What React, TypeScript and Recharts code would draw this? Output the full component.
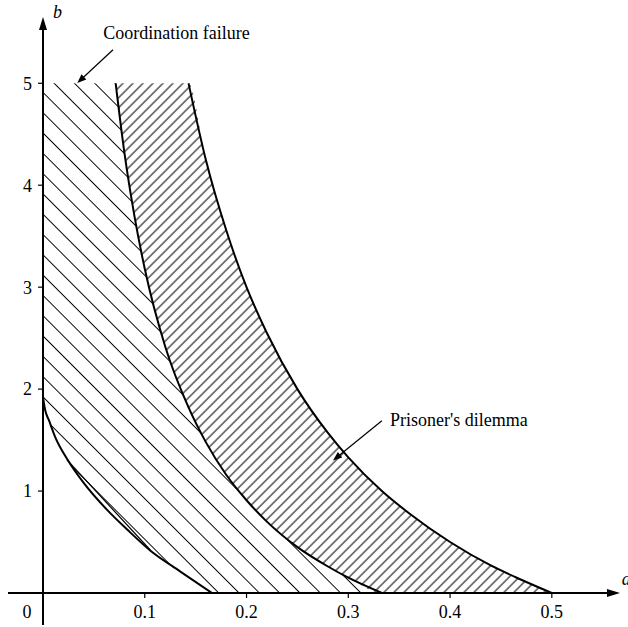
import React from 'react';
import { ComposedChart, Area, Line, XAxis, YAxis, ReferenceLine, ReferenceDot } from 'recharts';

const xTicks = [0, 0.1, 0.2, 0.3, 0.4, 0.5];
const xTickLabels = ['0', '0.1', '0.2', '0.3', '0.4', '0.5'];
const yTicks = [1, 2, 3, 4, 5];

// Prisoner's dilemma boundaries
const pdInner = [
  { a: 0.0714, b: 5 }, { a: 0.08, b: 4.32 }, { a: 0.09, b: 3.69 }, { a: 0.1, b: 3.18 },
  { a: 0.12, b: 2.42 }, { a: 0.143, b: 1.82 }, { a: 0.16, b: 1.48 }, { a: 0.18, b: 1.16 },
  { a: 0.2, b: 0.91 }, { a: 0.22, b: 0.7 }, { a: 0.25, b: 0.45 }, { a: 0.28, b: 0.26 },
  { a: 0.3, b: 0.15 }, { a: 0.333, b: 0 },
];
const pdOuter = [
  { a: 0.143, b: 5 }, { a: 0.16, b: 4.25 }, { a: 0.18, b: 3.56 }, { a: 0.2, b: 3.0 },
  { a: 0.22, b: 2.55 }, { a: 0.25, b: 2.0 }, { a: 0.28, b: 1.57 }, { a: 0.3, b: 1.33 },
  { a: 0.333, b: 1.0 }, { a: 0.36, b: 0.78 }, { a: 0.4, b: 0.5 }, { a: 0.44, b: 0.27 },
  { a: 0.47, b: 0.13 }, { a: 0.5, b: 0 },
];
// Lower-left boundary of coordination failure region
const curveA = [
  { a: 0, b: 1.92 }, { a: 0.002, b: 1.8 }, { a: 0.006, b: 1.69 }, { a: 0.012, b: 1.53 },
  { a: 0.024, b: 1.31 }, { a: 0.04, b: 1.08 }, { a: 0.063, b: 0.815 }, { a: 0.083, b: 0.62 },
  { a: 0.105, b: 0.42 }, { a: 0.135, b: 0.21 }, { a: 0.166, b: 0 },
];
const chordB = [{ a: 0.0236, b: 1.305 }, { a: 0.1054, b: 0.422 }];

// hatched bands: [a, low, high]
const pdBand = [
  { a: 0.0714, lo: 5, hi: 5 }, { a: 0.08, lo: 4.32, hi: 5 }, { a: 0.09, lo: 3.69, hi: 5 },
  { a: 0.1, lo: 3.18, hi: 5 }, { a: 0.12, lo: 2.42, hi: 5 }, { a: 0.143, lo: 1.82, hi: 5 },
  { a: 0.16, lo: 1.48, hi: 4.25 }, { a: 0.18, lo: 1.16, hi: 3.56 }, { a: 0.2, lo: 0.91, hi: 3.0 },
  { a: 0.22, lo: 0.7, hi: 2.55 }, { a: 0.25, lo: 0.45, hi: 2.0 }, { a: 0.28, lo: 0.26, hi: 1.57 },
  { a: 0.3, lo: 0.15, hi: 1.33 }, { a: 0.333, lo: 0, hi: 1.0 }, { a: 0.36, lo: 0, hi: 0.78 },
  { a: 0.4, lo: 0, hi: 0.5 }, { a: 0.44, lo: 0, hi: 0.27 }, { a: 0.47, lo: 0, hi: 0.13 },
  { a: 0.5, lo: 0, hi: 0 },
];
const coordBand = [
  { a: 0, lo: 1.92, hi: 5 }, { a: 0.002, lo: 1.8, hi: 5 }, { a: 0.006, lo: 1.69, hi: 5 },
  { a: 0.012, lo: 1.53, hi: 5 }, { a: 0.024, lo: 1.31, hi: 5 }, { a: 0.04, lo: 1.08, hi: 5 },
  { a: 0.063, lo: 0.815, hi: 5 }, { a: 0.0714, lo: 0.74, hi: 5 }, { a: 0.08, lo: 0.66, hi: 4.32 },
  { a: 0.09, lo: 0.57, hi: 3.69 }, { a: 0.105, lo: 0.42, hi: 2.97 }, { a: 0.12, lo: 0.31, hi: 2.42 },
  { a: 0.135, lo: 0.21, hi: 2.0 }, { a: 0.15, lo: 0.1, hi: 1.67 }, { a: 0.166, lo: 0, hi: 1.38 },
  { a: 0.18, lo: 0, hi: 1.16 }, { a: 0.2, lo: 0, hi: 0.91 }, { a: 0.22, lo: 0, hi: 0.7 },
  { a: 0.25, lo: 0, hi: 0.45 }, { a: 0.28, lo: 0, hi: 0.26 }, { a: 0.3, lo: 0, hi: 0.15 },
  { a: 0.333, lo: 0, hi: 0 },
];

const FONT = "'Liberation Serif', 'Times New Roman', serif";

const arrowShape = (len: number, half: number, width: number) => (props: any) => {
  const { x1, y1, x2, y2 } = props;
  const dx = x2 - x1;
  const dy = y2 - y1;
  const L = Math.sqrt(dx * dx + dy * dy) || 1;
  const ux = dx / L;
  const uy = dy / L;
  const bx = x2 - ux * len;
  const by = y2 - uy * len;
  const px = -uy * half;
  const py = ux * half;
  return (
    <g>
      <line x1={x1} y1={y1} x2={bx + ux * 2} y2={by + uy * 2} stroke="#000" strokeWidth={width} />
      <polygon points={`${x2},${y2} ${bx + px},${by + py} ${bx - px},${by - py}`} fill="#000" />
    </g>
  );
};

const textShape = (label: string, italic: boolean, anchor: string) => (props: any) => (
  <text x={props.cx} y={props.cy} fontFamily={FONT} fontSize={18} fontStyle={italic ? 'italic' : 'normal'} fill="#000" textAnchor={anchor}>
    {label}
  </text>
);

const XTick = (props: any) => {
  const { x, y, payload } = props;
  const i = xTicks.indexOf(payload.value);
  const dx = payload.value === 0 ? -16 : 0;
  return (
    <text x={x + dx} y={y} dy="0.71em" textAnchor="middle" fontFamily={FONT} fontSize={18} fill="#000">
      {xTickLabels[i]}
    </text>
  );
};

export default function App() {
  return (
    <div style={{ position: 'absolute', left: 0, top: 0, background: '#fff' }}>
      <ComposedChart width={628} height={627} margin={{ top: 17, right: 8, left: 0, bottom: 0 }}>
        <defs>
          <pattern id="hatchBack" patternUnits="userSpaceOnUse" width={14.354} height={14.354}
            patternTransform="translate(0 -1.35) rotate(-45)">
            <line x1={7.177} y1={-2} x2={7.177} y2={16.4} stroke="#000" strokeWidth={1} />
          </pattern>
          <pattern id="hatchFwd" patternUnits="userSpaceOnUse" width={7.071} height={7.071}
            patternTransform="translate(0 1.3) rotate(45)">
            <line x1={3.536} y1={-2} x2={3.536} y2={9.1} stroke="#000" strokeWidth={1} />
          </pattern>
        </defs>
        <XAxis type="number" dataKey="a" domain={[0, 0.567]} ticks={xTicks} allowDataOverflow
          axisLine={false} tickLine={{ stroke: '#000', strokeWidth: 1.2 }} tickSize={5} tickMargin={7}
          tick={<XTick />} height={34} interval={0} />
        <YAxis type="number" domain={[0, 5.65]} ticks={yTicks} allowDataOverflow width={43}
          axisLine={false} tickLine={{ stroke: '#000', strokeWidth: 1.2 }} tickSize={5} tickMargin={6}
          tick={{ fill: '#000', fontSize: 18, fontFamily: FONT }} interval={0} />

        <Area data={coordBand} dataKey={(d: any) => [d.lo, d.hi]} type="monotone" stroke="none"
          fill="url(#hatchBack)" fillOpacity={1} isAnimationActive={false} />
        <Area data={pdBand} dataKey={(d: any) => [d.lo, d.hi]} type="monotone" stroke="none"
          fill="url(#hatchFwd)" fillOpacity={1} isAnimationActive={false} />

        <Line data={pdInner} dataKey="b" type="monotone" stroke="#000" strokeWidth={2} dot={false} isAnimationActive={false} />
        <Line data={pdOuter} dataKey="b" type="monotone" stroke="#000" strokeWidth={2} dot={false} isAnimationActive={false} />
        <Line data={curveA} dataKey="b" type="monotone" stroke="#000" strokeWidth={2} dot={false} isAnimationActive={false} />
        <Line data={chordB} dataKey="b" type="linear" stroke="#000" strokeWidth={1.2} dot={false} isAnimationActive={false} />

        <ReferenceLine segment={[{ x: -0.0344, y: 0 }, { x: 0.567, y: 0 }]} ifOverflow="visible" shape={arrowShape(13, 4, 2)} />
        <ReferenceLine segment={[{ x: 0, y: -0.314 }, { x: 0, y: 5.65 }]} ifOverflow="visible" shape={arrowShape(13, 4, 2)} />
        <ReferenceLine segment={[{ x: 0.0688, y: 5.329 }, { x: 0.0337, y: 5.002 }]} ifOverflow="visible" shape={arrowShape(9, 3.5, 1.2)} />
        <ReferenceLine segment={[{ x: 0.333, y: 1.69 }, { x: 0.285, y: 1.3 }]} ifOverflow="visible" shape={arrowShape(9, 3.5, 1.2)} />

        <ReferenceDot x={0.0593} y={5.437} r={0} ifOverflow="visible" shape={textShape('Coordination failure', false, 'start')} />
        <ReferenceDot x={0.341} y={1.639} r={0} ifOverflow="visible" shape={textShape("Prisoner's dilemma", false, 'start')} />
        <ReferenceDot x={0.0098} y={5.643} r={0} ifOverflow="visible" shape={textShape('b', true, 'start')} />
        <ReferenceDot x={0.5687} y={0.0785} r={0} ifOverflow="visible" shape={textShape('a', true, 'start')} />
      </ComposedChart>
    </div>
  );
}
